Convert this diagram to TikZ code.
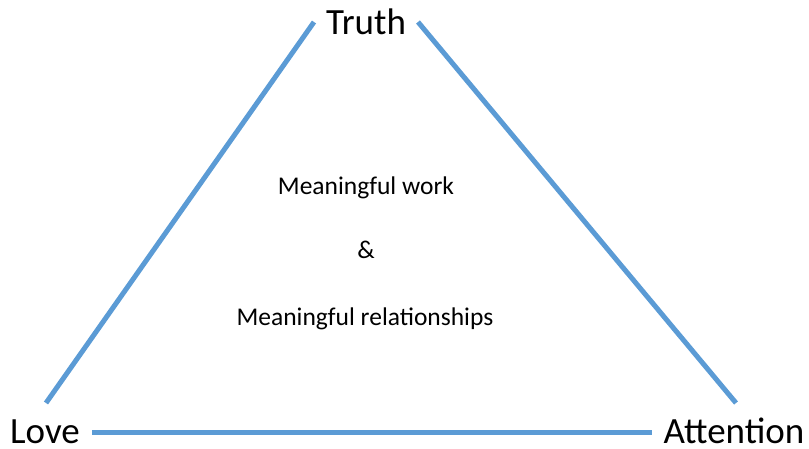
\documentclass[tikz,border=0pt]{standalone}
\usepackage{fontspec}
\setmainfont{Carlito}
\definecolor{edgeblue}{HTML}{5B9BD5}
\tikzset{
  big/.style={font=\fontsize{37}{44}\selectfont, anchor=base, inner sep=0pt},
  mid/.style={font=\fontsize{25.5}{30}\selectfont, anchor=base, inner sep=0pt},
  edge/.style={draw=edgeblue, line width=5pt},
}
\begin{document}
\begin{tikzpicture}[x=1pt,y=-1pt]
\useasboundingbox (0,0) rectangle (809,449);
\node[big] (truth) at (366,35) {Truth};
\node[big] (love) at (45,443) {Love};
\node[big] (attention) at (734,443) {Attention};
\node[mid] (work) at (366,195) {Meaningful work};
\node[mid] (amp) at (366,259) {\&};
\node[mid] (rel) at (365,326) {Meaningful relationships};
\coordinate (lt) at (314,22);
\coordinate (lb) at (46,403);
\coordinate (rt) at (418,22);
\coordinate (rb) at (736,403);
\coordinate (bl) at (92,432);
\coordinate (br) at (652,432);
\draw[edge] (lb) -- (lt);
\draw[edge] (rt) -- (rb);
\draw[edge] (bl) -- (br);
\end{tikzpicture}
\end{document}
